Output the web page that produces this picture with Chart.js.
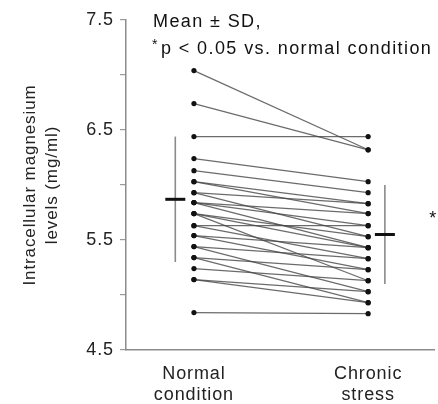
<!DOCTYPE html>
<html>
<head>
<meta charset="utf-8">
<script src="https://cdn.jsdelivr.net/npm/chart.js@4.4.1/dist/chart.umd.min.js"></script>
<style>
  html,body{margin:0;padding:0;background:#fff;}
  #wrap{width:438px;height:404px;position:relative;}
</style>
</head>
<body>
<div id="wrap"><canvas id="c" width="438" height="404"></canvas></div>
<script>
// ---- Data ----
const categories = [["Normal", "condition"], ["Chronic", "stress"]];
const normalValues  = [7.04, 6.74, 6.44, 6.24, 6.13, 6.03, 6.03, 5.93, 5.93, 5.84, 5.84, 5.84, 5.74, 5.74, 5.74, 5.63, 5.63, 5.54, 5.54, 5.44, 5.44, 5.34, 5.34, 5.24, 5.14, 5.14, 4.84];
const stressValues  = [6.32, 6.32, 6.44, 6.03, 5.93, 5.83, 5.74, 5.83, 5.53, 5.74, 5.63, 5.43, 5.53, 5.43, 5.13, 5.63, 5.33, 5.43, 5.23, 5.33, 5.03, 5.23, 4.93, 5.13, 5.03, 4.93, 4.83];
const groupMeans = [5.87, 5.55];
const groupSDs   = [0.57, 0.45];
const yTickLabels = ["4.5", "5.5", "6.5", "7.5"];
const annotationLines = ["Mean \u00b1 SD,", "p < 0.05 vs. normal condition"];
const yTitle = ["Intracellular magnesium", "levels (mg/ml)"];

// ---- Build datasets ----
const datasets = normalValues.map((v, i) => ({
  data: [{x: 1, y: v}, {x: 2, y: stressValues[i]}],
  borderColor: 'rgba(70,70,70,0.8)',
  borderWidth: 1.2,
  pointRadius: 2.6,
  pointBackgroundColor: '#111',
  pointBorderColor: '#111',
  pointBorderWidth: 0,
  showLine: true,
  fill: false,
  tension: 0
}));

const FONT = "'Liberation Sans', Arial, Helvetica, sans-serif";
const SPACING = '0.9px';
const meanOffsets = [-0.107, 0.096];

const spacingPlugin = {
  id: 'spacing',
  beforeUpdate(chart) { chart.ctx.letterSpacing = SPACING; },
  beforeDraw(chart) { chart.ctx.letterSpacing = SPACING; }
};

const meanSdPlugin = {
  id: 'meanSd',
  afterDatasetsDraw(chart) {
    const {ctx, scales: {x, y}} = chart;
    ctx.save();
    groupMeans.forEach((m, i) => {
      const px = x.getPixelForValue(i + 1 + meanOffsets[i]);
      const top = y.getPixelForValue(m + groupSDs[i]);
      const bot = y.getPixelForValue(m - groupSDs[i]);
      const my = y.getPixelForValue(m);
      ctx.strokeStyle = '#8a8a8a';
      ctx.lineWidth = 1.6;
      ctx.beginPath(); ctx.moveTo(px, top); ctx.lineTo(px, bot); ctx.stroke();
      ctx.strokeStyle = '#111';
      ctx.lineWidth = 3;
      ctx.beginPath(); ctx.moveTo(px - 10, my); ctx.lineTo(px + 10, my); ctx.stroke();
    });
    // significance star
    ctx.letterSpacing = '0px';
    ctx.fillStyle = '#111';
    ctx.font = '18px ' + FONT;
    ctx.textAlign = 'center';
    ctx.textBaseline = 'alphabetic';
    ctx.fillText('*', x.getPixelForValue(2.36) + 2, y.getPixelForValue(5.62) - 3);
    // annotation
    ctx.letterSpacing = '1.4px';
    ctx.textAlign = 'left';
    ctx.font = '18px ' + FONT;
    ctx.fillText(annotationLines[0], 153, 27);
    ctx.letterSpacing = '0px';
    ctx.font = '14px ' + FONT;
    ctx.fillText('*', 152, 49);
    ctx.letterSpacing = '1.4px';
    ctx.font = '18px ' + FONT;
    ctx.fillText(annotationLines[1], 161, 54);
    ctx.restore();
  }
};

new Chart(document.getElementById('c'), {
  type: 'scatter',
  data: { datasets },
  options: {
    responsive: false,
    animation: false,
    devicePixelRatio: 1,
    layout: { padding: { top: 20, right: 0, left: 0, bottom: 0 } },
    plugins: { legend: { display: false }, tooltip: { enabled: false } },
    scales: {
      x: {
        type: 'linear',
        min: 0.61, max: 2.378,
        afterBuildTicks(scale) { scale.ticks = [{value: 1}, {value: 2}]; },
        afterFit(scale) { scale.height = 54; scale.paddingLeft = 0; scale.paddingRight = 0; },
        ticks: {
          autoSkip: false,
          maxRotation: 0,
          padding: 14,
          color: '#222',
          font: { size: 18, family: FONT, lineHeight: 1.14 },
          callback: (v) => v === 1 ? categories[0] : (v === 2 ? categories[1] : '')
        },
        grid: { display: false, drawTicks: false },
        border: { color: '#8c8c8c', width: 1.5 }
      },
      y: {
        min: 4.5, max: 7.5,
        afterBuildTicks(scale) {
          scale.ticks = [4.5, 5.0, 5.5, 6.0, 6.5, 7.0, 7.5].map(v => ({value: v}));
        },
        afterFit(scale) { scale.width = 126; scale.paddingTop = 0; scale.paddingBottom = 0; },
        ticks: {
          autoSkip: false,
          padding: 6,
          color: '#222',
          font: { size: 18, family: FONT },
          callback: (v) => {
            const s = v.toFixed(1);
            return yTickLabels.includes(s) ? s : '';
          }
        },
        grid: { drawOnChartArea: false, tickLength: 6, color: '#9a9a9a', lineWidth: 1.2 },
        border: { color: '#8c8c8c', width: 1.5 },
        title: {
          display: true,
          text: yTitle,
          color: '#222',
          font: { size: 17, family: FONT, lineHeight: 1.3 },
          padding: { top: 19, bottom: 0 }
        }
      }
    }
  },
  plugins: [spacingPlugin, meanSdPlugin]
});
</script>
</body>
</html>
